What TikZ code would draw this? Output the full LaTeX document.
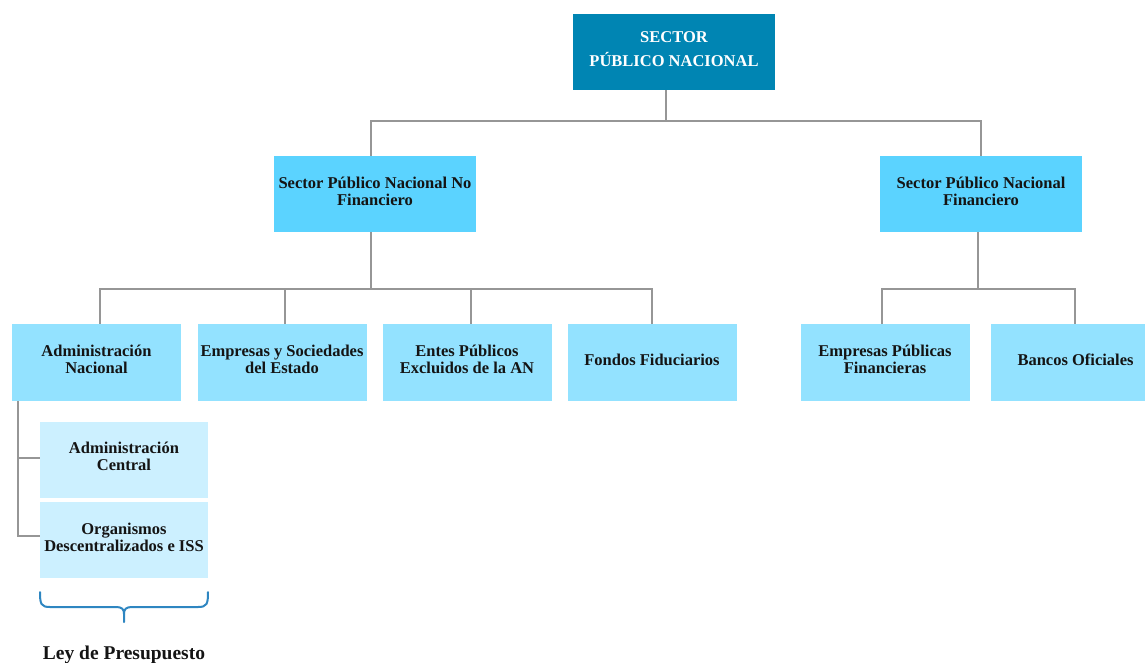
\documentclass[tikz,border=0pt]{standalone}
\usepackage{fontspec}
\setmainfont{Liberation Serif}
\definecolor{topblue}{RGB}{0,133,179}
\definecolor{lvltwo}{RGB}{91,211,255}
\definecolor{lvlthree}{RGB}{147,226,255}
\definecolor{lvlfour}{RGB}{204,240,255}
\definecolor{connc}{RGB}{150,150,150}
\definecolor{bracec}{RGB}{46,134,193}
\definecolor{txtc}{RGB}{20,20,20}
\begin{document}
\begin{tikzpicture}[x=1pt,y=-1pt,
  box/.style={rectangle, inner sep=0pt, align=center, text=txtc, text depth=5.5pt,
    font=\fontsize{16.5}{17}\selectfont\bfseries},
  topbox/.style={box, fill=topblue, text=white, minimum width=202pt, minimum height=76pt,
    font=\fontsize{16.5}{24}\selectfont\bfseries},
  twobox/.style={box, fill=lvltwo, minimum width=202pt, minimum height=76pt},
  threebox/.style={box, fill=lvlthree, minimum width=169pt, minimum height=77pt},
  fourbox/.style={box, fill=lvlfour, minimum width=168pt, minimum height=76pt},
  conn/.style={draw=connc, line width=1.2pt},
  bracestyle/.style={draw=bracec, line width=2pt, line cap=round},
]
\useasboundingbox (0,0) rectangle (1145,662);
\clip (0,0) rectangle (1145,662);

% nodes
\node[topbox] (top) at (674,52) {SECTOR\\PÚBLICO NACIONAL};
\node[twobox] (spnnf) at (375,194) {Sector Público Nacional No\\Financiero};
\node[twobox] (spnf) at (981,194) {Sector Público Nacional\\Financiero};

\node[threebox] (adm) at (96.5,362.5) {Administración\\Nacional};
\node[threebox] (emp) at (282,362.5) {Empresas y Sociedades\\del Estado};
\node[threebox] (ent) at (467,362.5) {Entes Públicos\\Excluidos de la AN};
\node[threebox] (fon) at (652,362.5) {Fondos Fiduciarios};
\node[threebox] (epf) at (885,362.5) {Empresas Públicas\\Financieras};
\node[threebox] (ban) at (1075.5,362.5) {Bancos Oficiales};

\node[fourbox] (admc) at (124,459.5) {Administración\\Central};
\node[fourbox] (org) at (124,540) {Organismos\\Descentralizados e ISS};

\node[font=\fontsize{19.5}{20}\selectfont\bfseries, text=txtc] (ley) at (124,655) {Ley de Presupuesto};

% bus coordinates
\coordinate (busA) at (666,121);
\coordinate (busB) at (371,289);
\coordinate (busC) at (978,289);

% connectors level 1 -> 2
\draw[conn] ([xshift=-8pt]top.south) -- (busA);
\draw[conn] (busA) -| ([xshift=-4pt]spnnf.north);
\draw[conn] (busA) -| (spnf.north);

% connectors level 2 -> 3 (left)
\draw[conn] ([xshift=-4pt]spnnf.south) -- (busB);
\draw[conn] (busB) -| ([xshift=3.5pt]adm.north);
\draw[conn] (busB) -| ([xshift=3pt]emp.north);
\draw[conn] (busB) -| ([xshift=4pt]ent.north);
\draw[conn] (busB) -| (fon.north);

% connectors level 2 -> 3 (right)
\draw[conn] ([xshift=-3pt]spnf.south) -- (busC);
\draw[conn] (busC) -| ([xshift=-3pt]epf.north);
\draw[conn] (busC) -| ([xshift=-0.5pt]ban.north);

% connectors level 3 -> 4
\draw[conn] ([xshift=-78.5pt]adm.south) |- ([yshift=1.5pt]admc.west);
\draw[conn] ([xshift=-78.5pt]adm.south) |- ([yshift=4pt]org.west);

% brace
\draw[bracestyle] (40,592) .. controls (40,604) and (41,607) .. (50,607) -- (116,607)
  .. controls (122,607) and (124,609) .. (124,614) -- (124,622);
\draw[bracestyle] (208,592) .. controls (208,604) and (207,607) .. (198,607) -- (132,607)
  .. controls (126,607) and (124,609) .. (124,614);
\end{tikzpicture}
\end{document}
